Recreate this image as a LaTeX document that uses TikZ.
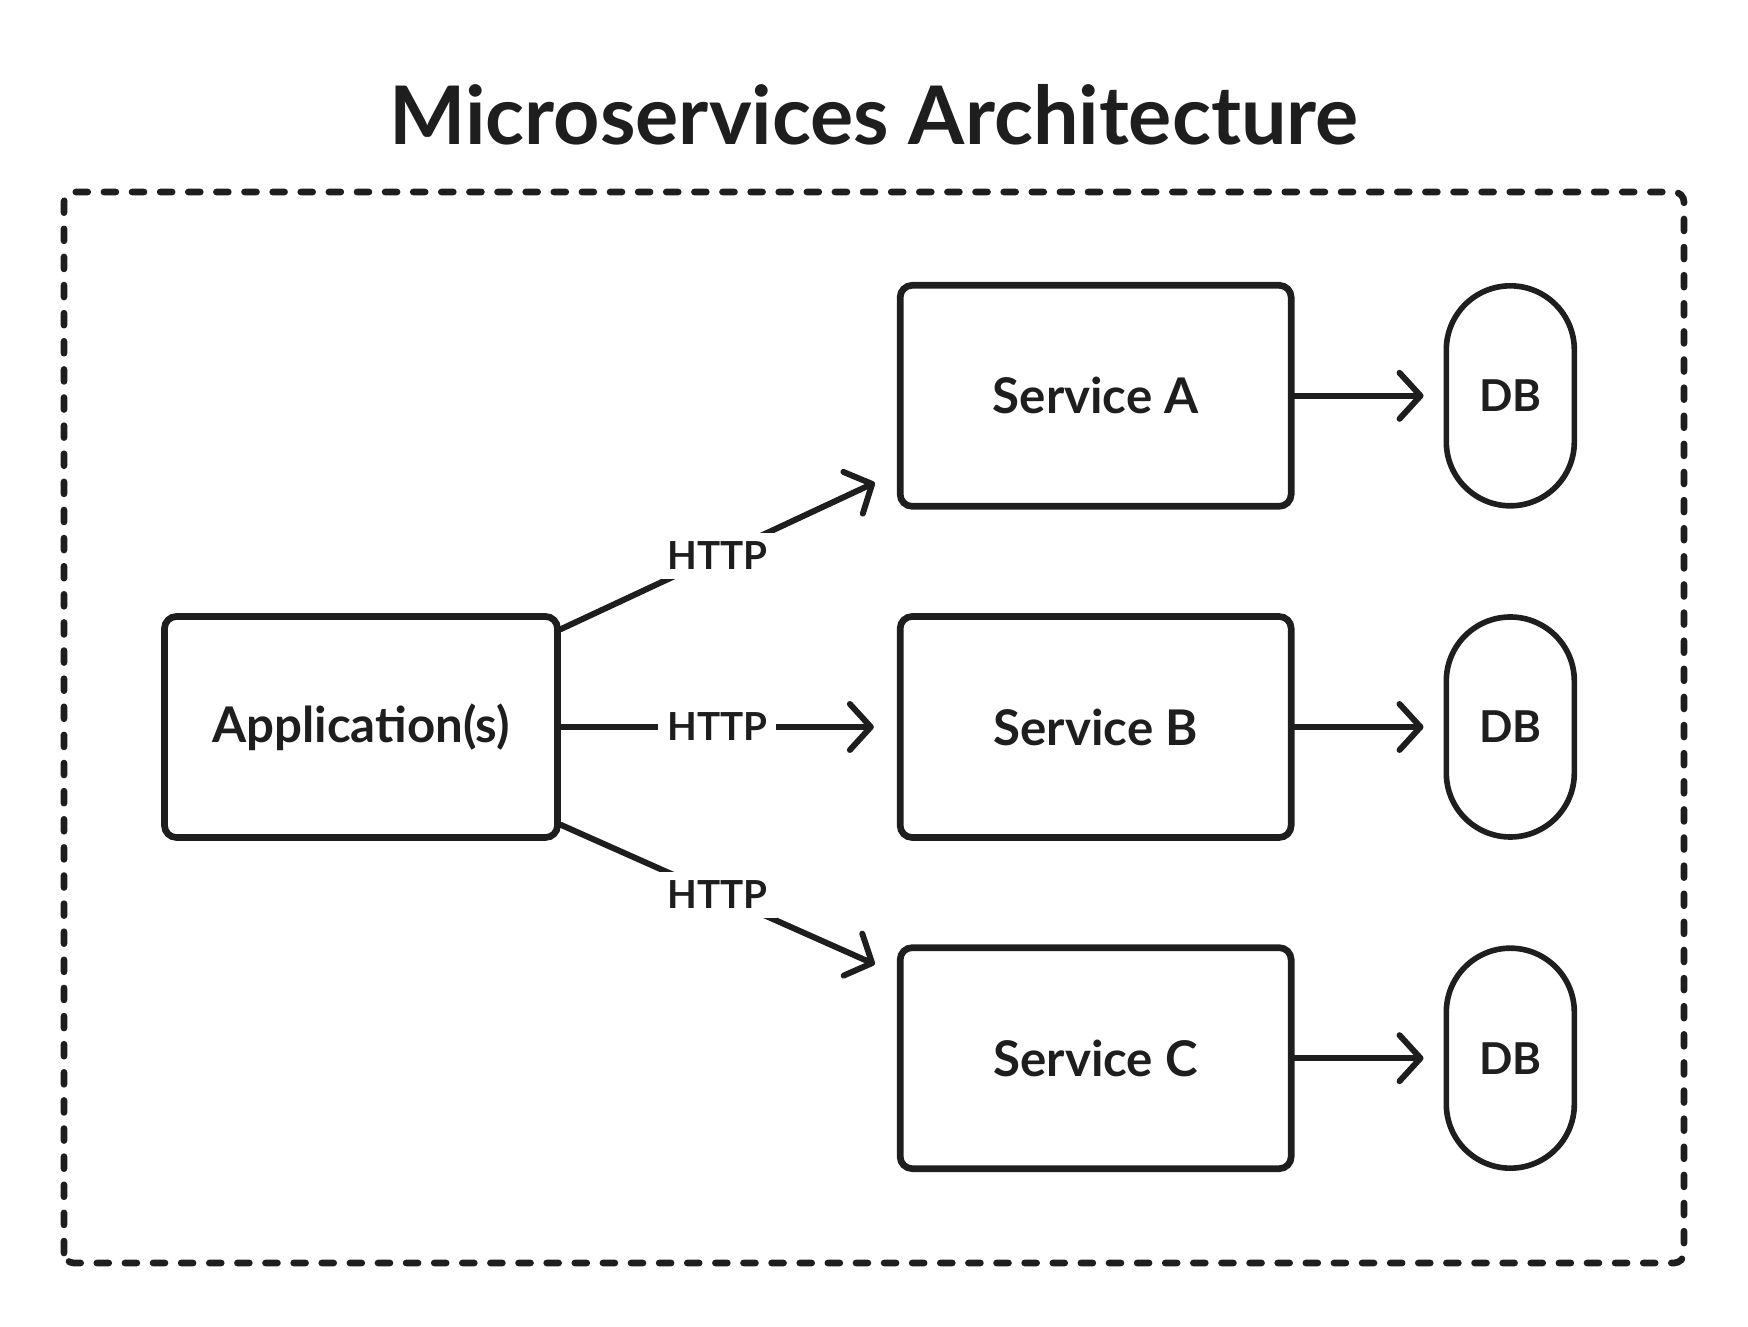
\documentclass[tikz,border=0pt]{standalone}
\usepackage{fontspec}
\setmainfont{Lato}
\usepackage{tikz}
\usetikzlibrary{arrows.meta, positioning}
\definecolor{ink}{HTML}{1E1E1E}
\tikzset{
  box/.style={draw=ink, line width=1.9pt, rounded corners=1.2mm, minimum width=3.93cm, minimum height=2.21cm, font=\fontsize{14}{17}\selectfont\bfseries, text=ink},
  svc/.style={box, minimum width=3.91cm, minimum height=2.21cm},
  db/.style={draw=ink, line width=1.6pt, rounded corners=6.4mm, minimum width=1.28cm, minimum height=2.2cm, font=\fontsize{12.5}{15}\selectfont\bfseries, text=ink},
  call/.style={draw=ink, line width=1.7pt, line cap=round, line join=round, -{Straight Barb[length=2.1mm, width=4.6mm, round]}},
  proto/.style={fill=white, inner sep=0.9mm, font=\fontsize{11}{13}\selectfont\bfseries, text=ink},
  frame/.style={draw=ink, line width=1.9pt, line cap=round, dash pattern=on 3.4pt off 4.6pt, rounded corners=1mm},
}
\begin{document}
\begin{tikzpicture}
  \useasboundingbox (0,0) rectangle (17.48,13.27);
  \node[font=\fontsize{23}{28}\selectfont\bfseries, text=ink] (title) at (8.74,12.12) {Microservices Architecture};
  \draw[frame] (0.64,0.64) rectangle (16.84,11.35);

  \node[box] (app) at (3.61,6.0) {Application(s)};
  \node[svc, right=3.36cm of app] (svcB) {Service B};
  \node[svc, above=1.035cm of svcB] (svcA) {Service A};
  \node[svc, below=1.035cm of svcB] (svcC) {Service C};

  \node[db, right=1.49cm of svcA] (dbA) {DB};
  \node[db, right=1.49cm of svcB] (dbB) {DB};
  \node[db, right=1.49cm of svcC] (dbC) {DB};

  \draw[call] ([yshift=-1.6mm]app.north east) -- node[proto]{HTTP} ([xshift=-2.2mm, yshift=2.7mm]svcA.south west);
  \draw[call] (app.east) -- node[proto]{HTTP} ([xshift=-2.3mm]svcB.west);
  \draw[call] ([yshift=1.6mm]app.south east) -- node[proto]{HTTP} ([xshift=-2.2mm, yshift=-2.0mm]svcC.north west);

  \draw[call] (svcA.east) -- ([xshift=-2mm]dbA.west);
  \draw[call] (svcB.east) -- ([xshift=-2mm]dbB.west);
  \draw[call] (svcC.east) -- ([xshift=-2mm]dbC.west);
\end{tikzpicture}
\end{document}
